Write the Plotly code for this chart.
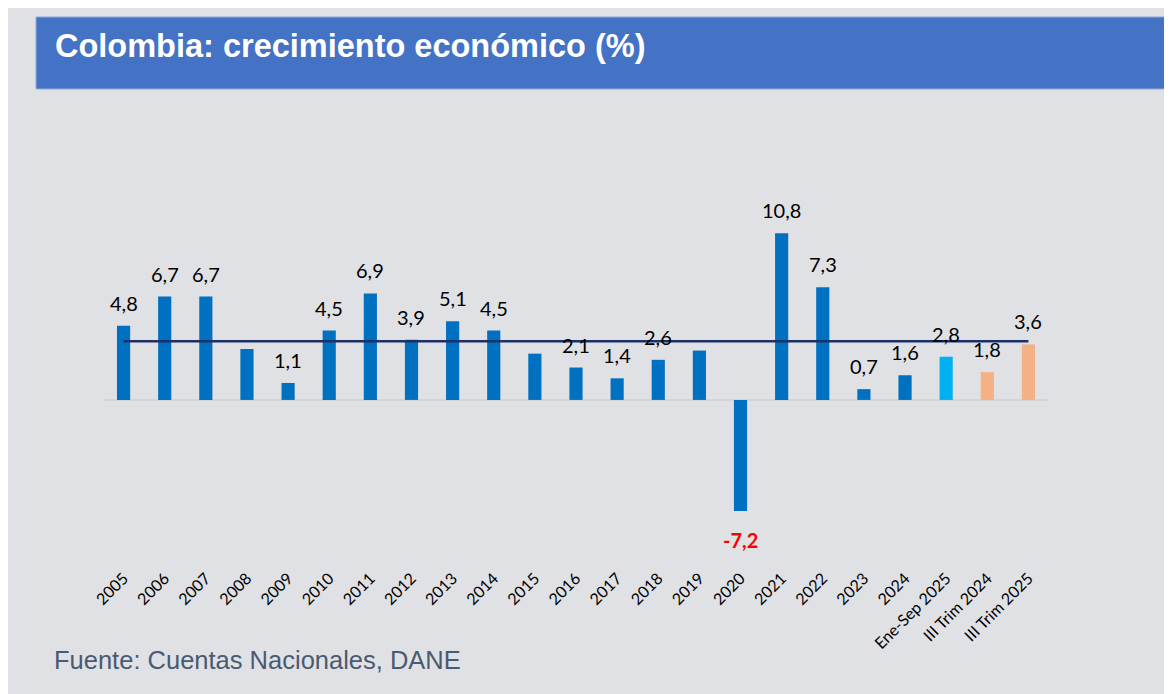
import plotly.graph_objects as go

# Datos: crecimiento del PIB de Colombia (%)
categorias = ["2005", "2006", "2007", "2008", "2009", "2010", "2011", "2012",
              "2013", "2014", "2015", "2016", "2017", "2018", "2019", "2020",
              "2021", "2022", "2023", "2024", "Ene-Sep 2025",
              "III Trim 2024", "III Trim 2025"]
crecimiento = [4.8, 6.7, 6.7, 3.3, 1.1, 4.5, 6.9, 3.9, 5.1, 4.5, 3.0, 2.1,
               1.4, 2.6, 3.2, -7.2, 10.8, 7.3, 0.7, 1.6, 2.8, 1.8, 3.6]
# Etiquetas visibles (las barras sin etiqueta quedan vacías)
etiquetas = ["4,8", "6,7", "6,7", "", "1,1", "4,5", "6,9", "3,9", "5,1", "4,5",
             "", "2,1", "1,4", "2,6", "", "-7,2", "10,8", "7,3", "0,7", "1,6",
             "2,8", "1,8", "3,6"]
promedio = 3.8

azul = "#0070C0"
celeste = "#00B0F0"
naranja = "#F4B183"
colores = [azul] * 20 + [celeste, naranja, naranja]

fondo = "#E0E1E5"

# posiciones de las categorías en el eje
pos = list(range(len(categorias)))

fig = go.Figure()

fig.add_trace(go.Bar(
    x=pos,
    y=crecimiento,
    width=0.32,
    marker=dict(color=colores, line=dict(width=0)),
    showlegend=False,
    hovertext=categorias,
))

# Línea de promedio
fig.add_trace(go.Scatter(
    x=pos,
    y=[promedio] * len(categorias),
    mode="lines",
    line=dict(color="#1C2F66", width=2.5),
    showlegend=False,
    hoverinfo="skip",
))

# Etiquetas de datos
for p, val, txt in zip(pos, crecimiento, etiquetas):
    if not txt:
        continue
    if val >= 0:
        fig.add_annotation(x=p, y=val, text=txt, showarrow=False,
                           yanchor="bottom", yshift=9,
                           font=dict(family="Lato", size=20, color="#000000"))
    else:
        fig.add_annotation(x=p, y=val, text="<b>" + txt + "</b>", showarrow=False,
                           yanchor="top", yshift=-15,
                           font=dict(family="Lato", size=20, color="#FF0000"))

# Píxeles -> coordenadas paper
L, T, W, H = 95, 142, 946, 415
def px(x):
    return (x - L) / W
def py(y):
    return (T + H - y) / H

# Caja del título
fig.add_shape(type="rect", xref="paper", yref="paper",
              x0=px(28), x1=px(1157), y0=py(81), y1=py(9),
              fillcolor="#4472C4", line=dict(color="#8FA9DC", width=1), layer="below")
fig.add_annotation(xref="paper", yref="paper", x=px(45), y=py(38),
                   xanchor="left", yanchor="middle", showarrow=False,
                   text="<b>Colombia: crecimiento económico (%)</b>",
                   font=dict(family="Liberation Sans", size=32.5, color="white"))
fig.add_annotation(xref="paper", yref="paper", x=px(44), y=py(652),
                   xanchor="left", yanchor="middle", showarrow=False,
                   text="Fuente: Cuentas Nacionales, DANE",
                   font=dict(family="Liberation Sans", size=25.5, color="#4A5A70"))

fig.update_layout(
    width=1172,
    height=694,
    margin=dict(l=L, r=1172 - L - W, t=T, b=694 - T - H),
    paper_bgcolor=fondo,
    plot_bgcolor=fondo,
)
fig.update_xaxes(
    range=[-0.5, len(categorias) - 0.5],
    tickmode="array",
    tickvals=pos,
    ticktext=categorias,
    tickangle=-45,
    tickfont=dict(family="Lato", size=16, color="#000000"),
    showgrid=False,
    showline=False,
    zeroline=False,
    ticks="",
)
fig.update_yaxes(
    range=[-10.7, 16.2],
    showgrid=False,
    showticklabels=False,
    zeroline=True,
    zerolinecolor="#D4D5D9",
    zerolinewidth=1.5,
)

fig.write_html("out.html")
